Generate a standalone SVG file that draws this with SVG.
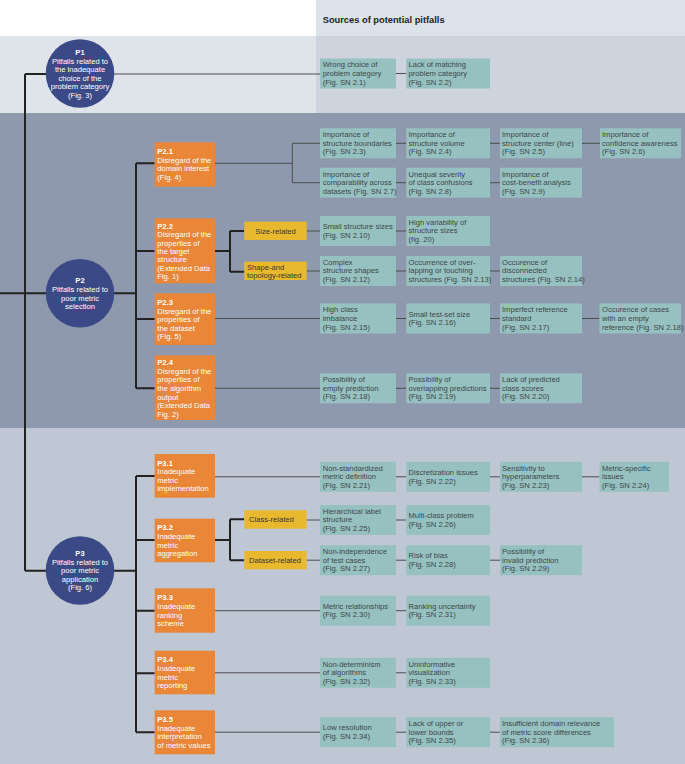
<svg xmlns="http://www.w3.org/2000/svg" width="685" height="764" viewBox="0 0 685 764">
<style>
text{font-family:"Liberation Sans",Arial,sans-serif;font-size:7.6px}
.leaf{fill:#97c1c0}
.lt{fill:#3b4749}
.orb{fill:#e98637}
.ot{fill:#ffffff}
.b{font-weight:bold}
.yb{fill:#e8b92e}
.yt{fill:#353535}
.circ{fill:#3b4a86}
.ct{fill:#ffffff;text-anchor:middle}
.thick{stroke:#222;stroke-width:2;fill:none}
.thin{stroke:#4d4d4d;stroke-width:1;fill:none}
</style>
<!-- backgrounds -->
<rect x="0" y="0" width="685" height="36" fill="#ffffff"/>
<rect x="316" y="0" width="369" height="36" fill="#dce2ea"/>
<rect x="0" y="36" width="316" height="77" fill="#dfe3ea"/>
<rect x="316" y="36" width="369" height="77" fill="#cdd4de"/>
<rect x="0" y="113" width="685" height="315" fill="#8e99ae"/>
<rect x="0" y="428" width="685" height="336" fill="#bfc7d5"/>
<text x="322.7" y="22.5" class="b" style="font-size:9.3px" fill="#222">Sources of potential pitfalls</text>

<g id="connectors">
<!-- main trunk -->
<path class="thick" d="M25 74V570.7M25 74H46M0 293.3H136M25 570.7H136"/>
<path class="thin" d="M114 74H320"/>
<!-- P2 bar -->
<path class="thick" d="M136 163.3V388.3M136 163.3H154.7M136 251H154.7M136 319H154.7M136 388.3H154.7"/>
<!-- P3 bar -->
<path class="thick" d="M136 476V732.3M136 476H154.7M136 540H154.7M136 610.7H154.7M136 673.3H154.7M136 732.3H154.7"/>
<!-- P2.1 -->
<path class="thin" d="M215 163.3H292.3M292.3 143.3V182.7M292.3 143.3H320M292.3 182.7H320"/>
<!-- P2.2 -->
<path class="thick" d="M215 251H230M230 231V271.7M230 231H244.3M230 271.7H244.3"/>
<path class="thin" d="M306.7 231H320M306.7 271H320"/>
<!-- P2.3 / P2.4 -->
<path class="thin" d="M215 318.5H320M215 388.3H320"/>
<!-- P3.1 -->
<path class="thin" d="M215 476.8H320"/>
<!-- P3.2 -->
<path class="thick" d="M215 540H230M230 519.3V560.2M230 519.3H244.3M230 560.2H244.3"/>
<path class="thin" d="M306.7 520H320M306.7 560.2H320"/>
<!-- P3.3-3.5 -->
<path class="thin" d="M215 610.7H320M215 672.8H320M215 732.2H320"/>
<!-- leaf chains -->
<path class="thin" d="M396 73.5H406.3"/>
<path class="thin" d="M396 143.3H406.3M490 143.3H500M582 143.3H600"/>
<path class="thin" d="M396 182.7H406.3M490 182.7H500"/>
<path class="thin" d="M396 231H406.3"/>
<path class="thin" d="M396 271H406.3M490 271H500"/>
<path class="thin" d="M396 318.5H406.3M490 318.5H500M582 318.5H599.5"/>
<path class="thin" d="M396 388.3H406.3M490 388.3H500"/>
<path class="thin" d="M396 476.8H406.3M490 476.8H500M582 476.8H599.5"/>
<path class="thin" d="M396 520H406.3"/>
<path class="thin" d="M396 560.2H406.3M490 560.2H500"/>
<path class="thin" d="M396 610.7H406.3"/>
<path class="thin" d="M396 672.8H406.3"/>
<path class="thin" d="M396 732.2H406.3M490 732.2H500"/>
</g>

<!-- circles -->
<g id="P1">
<circle class="circ" cx="80" cy="73.5" r="34.3"/>
<text class="ct b" x="80" y="54.5">P1</text>
<text class="ct" x="80" y="63.5">Pitfalls related to</text>
<text class="ct" x="80" y="72.1">the inadequate</text>
<text class="ct" x="80" y="80.5">choice of the</text>
<text class="ct" x="80" y="89.1">problem category</text>
<text class="ct" x="80" y="97.8">(Fig. 3)</text>
</g>
<g id="P2">
<circle class="circ" cx="80" cy="293.3" r="34.3"/>
<text class="ct b" x="80" y="283.1">P2</text>
<text class="ct" x="80" y="291.8">Pitfalls related to</text>
<text class="ct" x="80" y="300.5">poor metric</text>
<text class="ct" x="80" y="308.8">selection</text>
</g>
<g id="P3">
<circle class="circ" cx="80" cy="570.5" r="34.3"/>
<text class="ct b" x="80" y="555.5">P3</text>
<text class="ct" x="80" y="564.5">Pitfalls related to</text>
<text class="ct" x="80" y="572.8">poor metric</text>
<text class="ct" x="80" y="581.5">application</text>
<text class="ct" x="80" y="589.8">(Fig. 6)</text>
</g>

<!-- orange boxes -->
<g id="P2_1"><rect class="orb" x="154.7" y="142.3" width="60.3" height="44.4"/>
<text class="ot b" x="157.3" y="154.1">P2.1</text><text class="ot" x="157.3" y="162.5">Disregard of the</text><text class="ot" x="157.3" y="171.1">domain interest</text><text class="ot" x="157.3" y="179.8">(Fig. 4)</text></g>
<g id="P2_2"><rect class="orb" x="154.7" y="218.3" width="60.3" height="65"/>
<text class="ot b" x="157.3" y="228.5">P2.2</text><text class="ot" x="157.3" y="236.8">Disregard of the</text><text class="ot" x="157.3" y="245.5">properties of</text><text class="ot" x="157.3" y="253.8">the target</text><text class="ot" x="157.3" y="262.1">structure</text><text class="ot" x="157.3" y="270.8">(Extended Data</text><text class="ot" x="157.3" y="279.1">Fig. 1)</text></g>
<g id="P2_3"><rect class="orb" x="154.7" y="293.3" width="60.3" height="51.7"/>
<text class="ot b" x="157.3" y="305.1">P2.3</text><text class="ot" x="157.3" y="313.8">Disregard of the</text><text class="ot" x="157.3" y="322.1">properties of</text><text class="ot" x="157.3" y="330.8">the dataset</text><text class="ot" x="157.3" y="339.1">(Fig. 5)</text></g>
<g id="P2_4"><rect class="orb" x="154.7" y="355.3" width="60.3" height="64.7"/>
<text class="ot b" x="157.3" y="364.5">P2.4</text><text class="ot" x="157.3" y="373.5">Disregard of the</text><text class="ot" x="157.3" y="382.1">properties of</text><text class="ot" x="157.3" y="391.1">the algorithm</text><text class="ot" x="157.3" y="399.5">output</text><text class="ot" x="157.3" y="408.1">(Extended Data</text><text class="ot" x="157.3" y="416.8">Fig. 2)</text></g>
<g id="P3_1"><rect class="orb" x="154.7" y="454" width="60.3" height="43.7"/>
<text class="ot b" x="157.3" y="465.5">P3.1</text><text class="ot" x="157.3" y="474.1">Inadequate</text><text class="ot" x="157.3" y="482.5">metric</text><text class="ot" x="157.3" y="491.1">implementation</text></g>
<g id="P3_2"><rect class="orb" x="154.7" y="518.7" width="60.3" height="43.6"/>
<text class="ot b" x="157.3" y="530.1">P3.2</text><text class="ot" x="157.3" y="538.8">Inadequate</text><text class="ot" x="157.3" y="547.5">metric</text><text class="ot" x="157.3" y="555.8">aggregation</text></g>
<g id="P3_3"><rect class="orb" x="154.7" y="588.3" width="60.3" height="44.4"/>
<text class="ot b" x="157.3" y="599.5">P3.3</text><text class="ot" x="157.3" y="608.5">Inadequate</text><text class="ot" x="157.3" y="617.5">ranking</text><text class="ot" x="157.3" y="626.1">scheme</text></g>
<g id="P3_4"><rect class="orb" x="154.7" y="650.7" width="60.3" height="43.6"/>
<text class="ot b" x="157.3" y="662.1">P3.4</text><text class="ot" x="157.3" y="670.8">Inadequate</text><text class="ot" x="157.3" y="679.5">metric</text><text class="ot" x="157.3" y="688.1">reporting</text></g>
<g id="P3_5"><rect class="orb" x="154.7" y="710.3" width="60.3" height="44"/>
<text class="ot b" x="157.3" y="721.8">P3.5</text><text class="ot" x="157.3" y="730.5">Inadequate</text><text class="ot" x="157.3" y="738.8">interpretation</text><text class="ot" x="157.3" y="747.5">of metric values</text></g>

<!-- yellow boxes -->
<g id="size_related"><rect class="yb" x="244.3" y="221.7" width="62.4" height="18.3"/><text class="yt" x="275.5" y="233.8" text-anchor="middle">Size-related</text></g>
<g id="shape_related"><rect class="yb" x="244.3" y="261.7" width="62.4" height="18.3"/><text class="yt" x="247" y="269.5">Shape-and</text><text class="yt" x="247" y="278.1">topology-related</text></g>
<g id="class_related"><rect class="yb" x="244.3" y="510.3" width="62.4" height="18.4"/><text class="yt" x="249" y="522.3">Class-related</text></g>
<g id="dataset_related"><rect class="yb" x="244.3" y="551" width="62.4" height="18.3"/><text class="yt" x="249" y="563">Dataset-related</text></g>

<!-- leaves: P1 -->
<g id="L2_1"><rect class="leaf" x="320" y="58.5" width="76" height="30"/><text class="lt" x="322.7" y="67.3">Wrong choice of</text><text class="lt" x="322.7" y="75.9">problem category</text><text class="lt" x="322.7" y="84.5">(Fig. SN 2.1)</text></g>
<g id="L2_2"><rect class="leaf" x="406.3" y="58.5" width="83.7" height="30"/><text class="lt" x="408.5" y="67.3">Lack of matching</text><text class="lt" x="408.5" y="75.9">problem category</text><text class="lt" x="408.5" y="84.5">(Fig. SN 2.2)</text></g>

<!-- P2.1 row 1 -->
<g id="L2_3"><rect class="leaf" x="320" y="128.3" width="76" height="30"/><text class="lt" x="322.7" y="137.1">Importance of</text><text class="lt" x="322.7" y="145.7">structure boundaries</text><text class="lt" x="322.7" y="154.3">(Fig. SN 2.3)</text></g>
<g id="L2_4"><rect class="leaf" x="406.3" y="128.3" width="83.7" height="30"/><text class="lt" x="408.5" y="137.1">Importance of</text><text class="lt" x="408.5" y="145.7">structure volume</text><text class="lt" x="408.5" y="154.3">(Fig. SN 2.4)</text></g>
<g id="L2_5"><rect class="leaf" x="500" y="128.3" width="82" height="30"/><text class="lt" x="502" y="137.1">Importance of</text><text class="lt" x="502" y="145.7">structure center (line)</text><text class="lt" x="502" y="154.3">(Fig. SN 2.5)</text></g>
<g id="L2_6"><rect class="leaf" x="600" y="128.3" width="81" height="30"/><text class="lt" x="602" y="137.1">Importance of</text><text class="lt" x="602" y="145.7">confidence awareness</text><text class="lt" x="602" y="154.3">(Fig. SN 2.6)</text></g>
<!-- P2.1 row 2 -->
<g id="L2_7"><rect class="leaf" x="320" y="167.7" width="76" height="30"/><text class="lt" x="322.7" y="176.5">Importance of</text><text class="lt" x="322.7" y="185.1">comparability across</text><text class="lt" x="322.7" y="193.7">datasets (Fig. SN 2.7)</text></g>
<g id="L2_8"><rect class="leaf" x="406.3" y="167.7" width="83.7" height="30"/><text class="lt" x="408.5" y="176.5">Unequal severity</text><text class="lt" x="408.5" y="185.1">of class confusions</text><text class="lt" x="408.5" y="193.7">(Fig. SN 2.8)</text></g>
<g id="L2_9"><rect class="leaf" x="500" y="167.7" width="82" height="30"/><text class="lt" x="502" y="176.5">Importance of</text><text class="lt" x="502" y="185.1">cost-benefit analysis</text><text class="lt" x="502" y="193.7">(Fig. SN 2.9)</text></g>

<!-- Size row -->
<g id="L2_10"><rect class="leaf" x="320" y="216" width="76" height="30"/><text class="lt" x="322.7" y="229.3">Small structure sizes</text><text class="lt" x="322.7" y="237.9">(Fig. SN 2.10)</text></g>
<g id="L2_11"><rect class="leaf" x="406.3" y="216" width="83.7" height="30"/><text class="lt" x="408.5" y="224.8">High variability of</text><text class="lt" x="408.5" y="233.4">structure sizes</text><text class="lt" x="408.5" y="242">(fig. 20)</text></g>
<!-- Shape row -->
<g id="L2_12"><rect class="leaf" x="320" y="256" width="76" height="30"/><text class="lt" x="322.7" y="264.8">Complex</text><text class="lt" x="322.7" y="273.4">structure shapes</text><text class="lt" x="322.7" y="282">(Fig. SN 2.12)</text></g>
<g id="L2_13"><rect class="leaf" x="406.3" y="256" width="83.7" height="30"/><text class="lt" x="408.5" y="264.8">Occurrence of over-</text><text class="lt" x="408.5" y="273.4">lapping or touching</text><text class="lt" x="408.5" y="282">structures (Fig. SN 2.13)</text></g>
<g id="L2_14"><rect class="leaf" x="500" y="256" width="82" height="30"/><text class="lt" x="502" y="264.8">Occurence of</text><text class="lt" x="502" y="273.4">disconnected</text><text class="lt" x="502" y="282">structures (Fig. SN 2.14)</text></g>

<!-- P2.3 row -->
<g id="L2_15"><rect class="leaf" x="320" y="303.5" width="76" height="30"/><text class="lt" x="322.7" y="312.3">High class</text><text class="lt" x="322.7" y="320.9">imbalance</text><text class="lt" x="322.7" y="329.5">(Fig. SN 2.15)</text></g>
<g id="L2_16"><rect class="leaf" x="406.3" y="303.5" width="83.7" height="30"/><text class="lt" x="408.5" y="316.6">Small test-set size</text><text class="lt" x="408.5" y="325.2">(Fig. SN 2.16)</text></g>
<g id="L2_17"><rect class="leaf" x="500" y="303.5" width="82" height="30"/><text class="lt" x="502" y="312.3">Imperfect reference</text><text class="lt" x="502" y="320.9">standard</text><text class="lt" x="502" y="329.5">(Fig. SN 2.17)</text></g>
<g id="L2_18b"><rect class="leaf" x="599.5" y="303.5" width="81.5" height="30"/><text class="lt" x="602" y="312.3">Occurence of cases</text><text class="lt" x="602" y="320.9">with an empty</text><text class="lt" x="602" y="329.5">reference (Fig. SN 2.18)</text></g>

<!-- P2.4 row -->
<g id="L2_18"><rect class="leaf" x="320" y="373.3" width="76" height="30"/><text class="lt" x="322.7" y="382.1">Possibility of</text><text class="lt" x="322.7" y="390.7">empty prediction</text><text class="lt" x="322.7" y="399.3">(Fig. SN 2.18)</text></g>
<g id="L2_19"><rect class="leaf" x="406.3" y="373.3" width="83.7" height="30"/><text class="lt" x="408.5" y="382.1">Possibility of</text><text class="lt" x="408.5" y="390.7">overlapping predictions</text><text class="lt" x="408.5" y="399.3">(Fig. SN 2.19)</text></g>
<g id="L2_20"><rect class="leaf" x="500" y="373.3" width="82" height="30"/><text class="lt" x="502" y="382.1">Lack of predicted</text><text class="lt" x="502" y="390.7">class scores</text><text class="lt" x="502" y="399.3">(Fig. SN 2.20)</text></g>

<!-- P3.1 row -->
<g id="L2_21"><rect class="leaf" x="320" y="461.8" width="76" height="30"/><text class="lt" x="322.7" y="470.6">Non-standardized</text><text class="lt" x="322.7" y="479.2">metric definition</text><text class="lt" x="322.7" y="487.8">(Fig. SN 2.21)</text></g>
<g id="L2_22"><rect class="leaf" x="406.3" y="461.8" width="83.7" height="30"/><text class="lt" x="408.5" y="474.9">Discretization issues</text><text class="lt" x="408.5" y="483.5">(Fig. SN 2.22)</text></g>
<g id="L2_23"><rect class="leaf" x="500" y="461.8" width="82" height="30"/><text class="lt" x="502" y="470.6">Sensitivity to</text><text class="lt" x="502" y="479.2">hyperparameters</text><text class="lt" x="502" y="487.8">(Fig. SN 2.23)</text></g>
<g id="L2_24"><rect class="leaf" x="599.5" y="461.8" width="69.5" height="30"/><text class="lt" x="602" y="470.6">Metric-specific</text><text class="lt" x="602" y="479.2">issues</text><text class="lt" x="602" y="487.8">(Fig. SN 2.24)</text></g>

<!-- Class row -->
<g id="L2_25"><rect class="leaf" x="320" y="505" width="76" height="30"/><text class="lt" x="322.7" y="513.8">Hierarchical label</text><text class="lt" x="322.7" y="522.4">structure</text><text class="lt" x="322.7" y="531">(Fig. SN 2.25)</text></g>
<g id="L2_26"><rect class="leaf" x="406.3" y="505" width="83.7" height="30"/><text class="lt" x="408.5" y="518.1">Multi-class problem</text><text class="lt" x="408.5" y="526.7">(Fig. SN 2.26)</text></g>
<!-- Dataset row -->
<g id="L2_27"><rect class="leaf" x="320" y="545.2" width="76" height="30"/><text class="lt" x="322.7" y="554">Non-independence</text><text class="lt" x="322.7" y="562.6">of test cases</text><text class="lt" x="322.7" y="571.2">(Fig. SN 2.27)</text></g>
<g id="L2_28"><rect class="leaf" x="406.3" y="545.2" width="83.7" height="30"/><text class="lt" x="408.5" y="558.3">Risk of bias</text><text class="lt" x="408.5" y="566.9">(Fig. SN 2.28)</text></g>
<g id="L2_29"><rect class="leaf" x="500" y="545.2" width="82" height="30"/><text class="lt" x="502" y="554">Possibility of</text><text class="lt" x="502" y="562.6">invalid prediction</text><text class="lt" x="502" y="571.2">(Fig. SN 2.29)</text></g>

<!-- P3.3 row -->
<g id="L2_30"><rect class="leaf" x="320" y="595.7" width="76" height="30"/><text class="lt" x="322.7" y="608.8">Metric relationships</text><text class="lt" x="322.7" y="617.4">(Fig. SN 2.30)</text></g>
<g id="L2_31"><rect class="leaf" x="406.3" y="595.7" width="83.7" height="30"/><text class="lt" x="408.5" y="608.8">Ranking uncertainty</text><text class="lt" x="408.5" y="617.4">(Fig. SN 2.31)</text></g>

<!-- P3.4 row -->
<g id="L2_32"><rect class="leaf" x="320" y="657.8" width="76" height="30"/><text class="lt" x="322.7" y="666.6">Non-determinism</text><text class="lt" x="322.7" y="675.2">of algorithms</text><text class="lt" x="322.7" y="683.8">(Fig. SN 2.32)</text></g>
<g id="L2_33"><rect class="leaf" x="406.3" y="657.8" width="83.7" height="30"/><text class="lt" x="408.5" y="666.6">Uninformative</text><text class="lt" x="408.5" y="675.2">visualization</text><text class="lt" x="408.5" y="683.8">(Fig. SN 2.33)</text></g>

<!-- P3.5 row -->
<g id="L2_34"><rect class="leaf" x="320" y="717.2" width="76" height="30"/><text class="lt" x="322.7" y="730.3">Low resolution</text><text class="lt" x="322.7" y="738.9">(Fig. SN 2.34)</text></g>
<g id="L2_35"><rect class="leaf" x="406.3" y="717.2" width="83.7" height="30"/><text class="lt" x="408.5" y="726">Lack of upper or</text><text class="lt" x="408.5" y="734.6">lower bounds</text><text class="lt" x="408.5" y="743.2">(Fig. SN 2.35)</text></g>
<g id="L2_36"><rect class="leaf" x="500" y="717.2" width="114" height="30"/><text class="lt" x="502" y="726">Insufficient domain relevance</text><text class="lt" x="502" y="734.6">of metric score differences</text><text class="lt" x="502" y="743.2">(Fig. SN 2.36)</text></g>
</svg>
